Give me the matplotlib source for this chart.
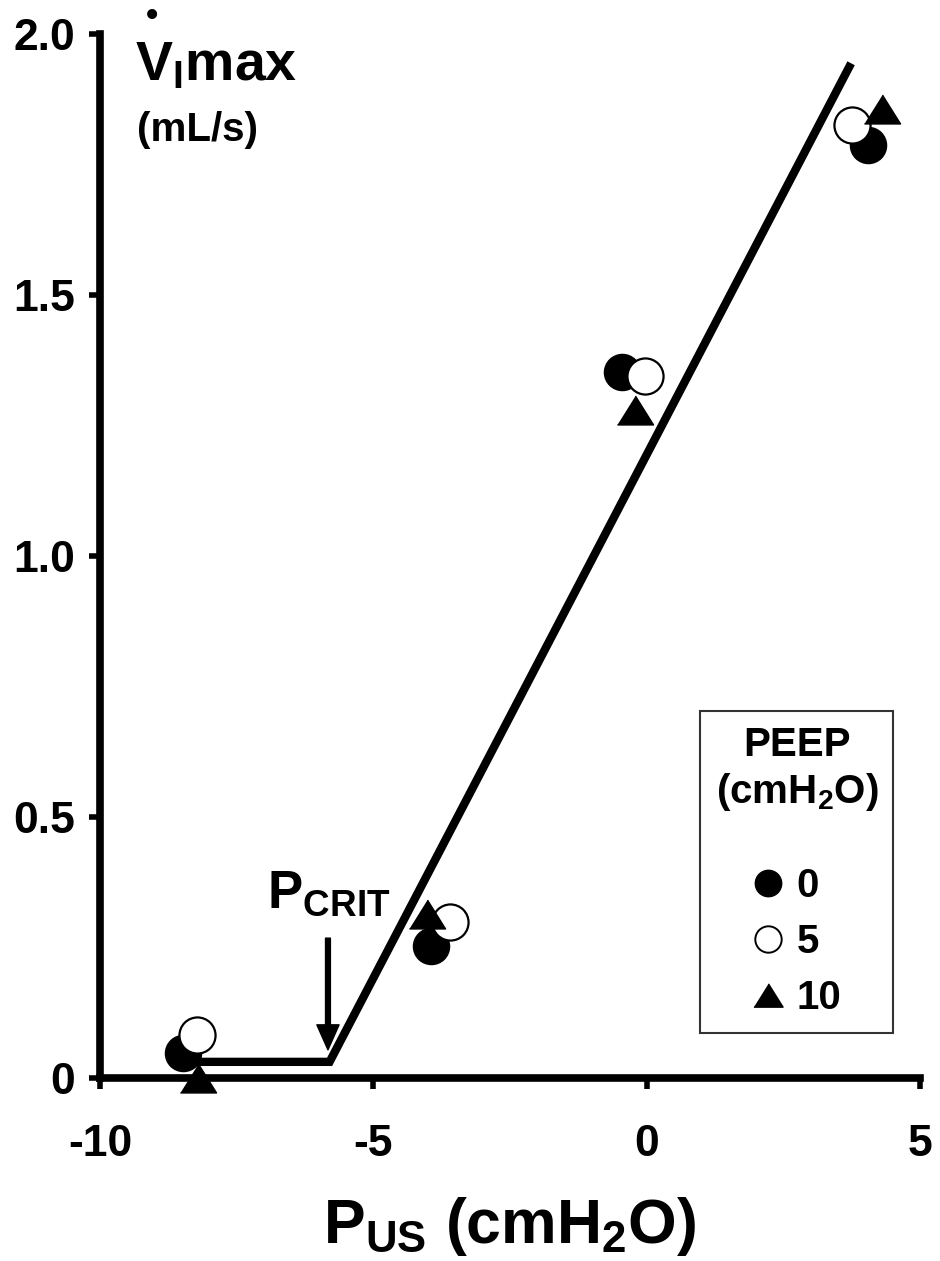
import matplotlib
matplotlib.use("Agg")
import matplotlib.pyplot as plt
from matplotlib.lines import Line2D

# ── Data ───────────────────────────────────────────────────────────────
peep_levels = ["0", "5", "10"]

pus_peep0 = [-8.48, -3.94, -0.45, 4.05]
vmax_peep0 = [0.048, 0.253, 1.352, 1.787]

pus_peep5 = [-8.23, -3.60, -0.03, 3.76]
vmax_peep5 = [0.082, 0.298, 1.345, 1.826]

pus_peep10 = [-8.21, -4.02, -0.21, 4.30]
vmax_peep10 = [0.0, 0.314, 1.28, 1.856]

# piecewise fit: flat below Pcrit, linear above
fit_pus = [-8.35, -5.8, 3.74]
fit_vmax = [0.031, 0.031, 1.944]
pcrit = -5.8

xticks = [-10, -5, 0, 5]
xticklabels = ["-10", "-5", "0", "5"]
yticks = [0, 0.5, 1.0, 1.5, 2.0]
yticklabels = ["0", "0.5", "1.0", "1.5", "2.0"]

# ── Style ──────────────────────────────────────────────────────────────
plt.rcParams["font.family"] = ["Liberation Sans", "DejaVu Sans"]
plt.rcParams["font.weight"] = "bold"
plt.rcParams["mathtext.fontset"] = "custom"
plt.rcParams["mathtext.rm"] = "Liberation Sans:bold"
plt.rcParams["mathtext.it"] = "Liberation Sans:bold"
plt.rcParams["mathtext.bf"] = "Liberation Sans:bold"

tri = [(-0.5, -0.4), (0.5, -0.4), (0.0, 0.4)]

fig = plt.figure(figsize=(9.4, 12.61), dpi=100)
ax = fig.add_axes([0.1064, 0.1451, 0.8723, 0.8279])

ax.plot(fit_pus, fit_vmax, color="black", lw=6, solid_capstyle="butt",
        solid_joinstyle="miter", zorder=2)

ax.plot(pus_peep0, vmax_peep0, ls="none", marker="o", ms=26,
        mfc="black", mec="black", clip_on=False, zorder=3)
ax.plot(pus_peep5, vmax_peep5, ls="none", marker="o", ms=26, mew=1.6,
        mfc="white", mec="black", clip_on=False, zorder=4)
ax.plot(pus_peep10, vmax_peep10, ls="none", marker=tri, ms=26,
        mfc="black", mec="black", clip_on=False, zorder=5)

# Pcrit arrow + label
ax.annotate("", xy=(pcrit - 0.03, 0.054), xytext=(pcrit - 0.03, 0.268),
            arrowprops=dict(facecolor="black", edgecolor="black", width=3.5,
                            headwidth=16, headlength=18, shrink=0))
ax.text(-6.95, 0.326, r"$\mathrm{P_{CRIT}}$", fontsize=38, ha="left",
        va="baseline")

# y label inside the plot, top-left (V with flow dot)
ax.text(-9.36, 1.912, r"$\mathrm{V_{I}max}$",
        fontsize=40, ha="left", va="baseline")
ax.text(-9.05, 2.033, "\u2022", fontsize=25, ha="center", va="center")
ax.text(-9.33, 1.816, "(mL/s)", fontsize=29, fontweight="bold",
        ha="left", va="center")

# axes
ax.set_xlim(-10, 5)
ax.set_ylim(0, 2.0)
ax.set_xticks(xticks)
ax.set_xticklabels(xticklabels)
ax.set_yticks(yticks)
ax.set_yticklabels(yticklabels)
for s in ["top", "right"]:
    ax.spines[s].set_visible(False)
for s in ["left", "bottom"]:
    ax.spines[s].set_linewidth(5.5)
    ax.spines[s].set_capstyle("projecting")
ax.tick_params(axis="both", direction="out", length=8, width=4,
               labelsize=32)
ax.tick_params(axis="x", pad=25)
ax.tick_params(axis="y", pad=10)
for lbl in ax.get_xticklabels() + ax.get_yticklabels():
    lbl.set_fontweight("bold")

ax.set_xlabel(r"$\mathrm{P_{US}}$ (cmH$_\mathrm{2}$O)", fontsize=45,
              fontweight="bold", labelpad=22)

# legend
handles = [
    Line2D([], [], ls="none", marker="o", ms=19, mfc="black", mec="black"),
    Line2D([], [], ls="none", marker="o", ms=19, mew=1.4, mfc="white",
           mec="black"),
    Line2D([], [], ls="none", marker=tri, ms=21, mfc="black", mec="black"),
]
leg = ax.legend(handles, peep_levels, title="PEEP\n(cmH$_\\mathrm{2}$O)",
                loc="upper left", bbox_to_anchor=(0.732, 0.3515),
                frameon=True, fancybox=False, edgecolor="black",
                prop=dict(weight="bold", size=29),
                title_fontproperties=dict(weight="bold", size=29),
                handlelength=0.8, handletextpad=0.3, labelspacing=0.45,
                borderpad=0.38, borderaxespad=0)
leg.get_title().set_multialignment("center")
leg._legend_box.sep = 0.45 * 29 + 26
leg.get_frame().set_linewidth(1.5)

fig.savefig("out.png", dpi=100)
